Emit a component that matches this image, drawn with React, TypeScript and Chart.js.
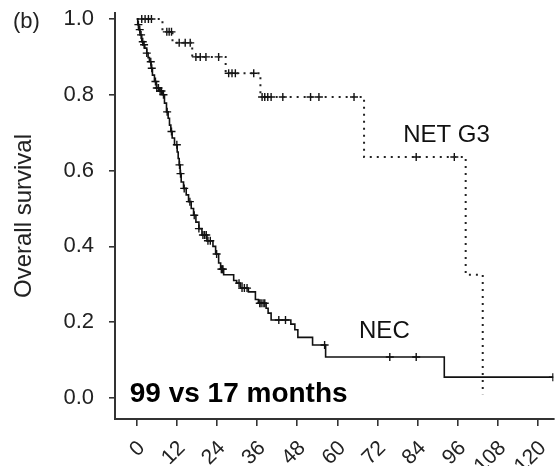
import React, { useEffect, useRef } from 'react';
import { Chart, registerables } from 'chart.js';

Chart.register(...registerables);

// ---- data ----
const X_TICKS = [0, 12, 24, 36, 48, 60, 72, 84, 96, 108, 120];
const Y_TICKS = [0, 0.2, 0.4, 0.6, 0.8, 1.0];

// NEC: months at which survival drops, and survival after each drop
const NEC_MONTHS = [0, 0.3, 0.6, 1.0, 1.5, 2.0, 2.4, 3.0, 3.4, 3.8, 4.3, 4.7, 5.3, 5.9, 6.8, 7.7, 8.3, 8.9, 9.4, 9.8, 10.2, 10.6, 11.3, 12.1, 12.4, 12.7, 13.0, 13.3, 14.0, 14.8, 15.5, 16.3, 17.0, 17.7, 18.6, 19.5, 21.0, 22.8, 23.6, 24.5, 25.1, 26.0, 29.0, 29.9, 31.0, 33.4, 35.5, 36.4, 38.7, 39.3, 40.2, 46.1, 47.3, 48.2, 52.6, 56.5, 92.0];
const NEC_SURV = [1.0, 0.985, 0.972, 0.958, 0.94, 0.932, 0.923, 0.91, 0.898, 0.887, 0.87, 0.852, 0.835, 0.818, 0.81, 0.8, 0.778, 0.755, 0.738, 0.72, 0.703, 0.686, 0.668, 0.649, 0.632, 0.615, 0.592, 0.57, 0.553, 0.536, 0.518, 0.5, 0.482, 0.464, 0.447, 0.43, 0.415, 0.4, 0.38, 0.356, 0.34, 0.325, 0.31, 0.303, 0.29, 0.28, 0.26, 0.25, 0.237, 0.224, 0.206, 0.195, 0.18, 0.16, 0.14, 0.108, 0.055];
const NEC_CENSOR_MONTHS = [0.5, 0.9, 1.3, 1.8, 2.2, 3.0, 4.2, 4.5, 5.6, 6.0, 6.5, 7.0, 7.4, 8.0, 9.1, 10.4, 12.0, 12.8, 13.1, 14.2, 15.9, 17.2, 18.6, 19.8, 20.3, 20.8, 21.3, 22.0, 23.9, 25.3, 25.6, 25.8, 30.6, 31.5, 32.2, 33.0, 36.8, 37.2, 37.8, 38.3, 42.5, 44.5, 56.2, 75.7, 83.6, 124.5];

// NET G3
const NET_MONTHS = [0, 7.7, 10.7, 16.6, 26.6, 37.0, 68.0, 98.4, 103.5];
const NET_SURV = [1.0, 0.966, 0.937, 0.9, 0.857, 0.794, 0.636, 0.325, 0.01];
const NET_CENSOR_MONTHS = [1.5, 2.5, 3.5, 4.4, 9.0, 9.7, 10.4, 12.7, 14.5, 16.0, 17.7, 19.0, 20.7, 24.5, 27.5, 28.5, 29.5, 35.0, 37.5, 38.3, 39.2, 40.2, 43.7, 52.0, 54.5, 65.0, 83.6, 95.0];

// ---- layout / style constants ----
const FONT = '"Liberation Sans", Arial, Helvetica, sans-serif';
const X_MIN = -6.5;
const X_MAX = 124.7;
const Y_MIN = -0.0554;
const Y_MAX = 1.0158;

function survivalAt(months: number[], surv: number[], t: number): number {
  let s = surv[0];
  for (let i = 0; i < months.length; i++) {
    if (months[i] <= t) s = surv[i];
  }
  return s;
}

function curvePoints(months: number[], surv: number[], endMonth?: number) {
  const pts = months.map((m, i) => ({ x: m, y: surv[i] }));
  if (endMonth !== undefined && endMonth > months[months.length - 1]) {
    pts.push({ x: endMonth, y: surv[surv.length - 1] });
  }
  return pts;
}

function censorPoints(months: number[], surv: number[], censors: number[]) {
  return censors.map((t) => ({ x: t, y: survivalAt(months, surv, t) }));
}

const textPlugin = {
  id: 'textAnnotations',
  afterDatasetsDraw(chart: any) {
    const { ctx } = chart;
    const xs = chart.scales.x;
    const ys = chart.scales.y;
    ctx.save();
    ctx.fillStyle = '#111';
    ctx.textAlign = 'left';
    ctx.textBaseline = 'alphabetic';
    ctx.font = `24px ${FONT}`;
    ctx.fillText('NET G3', xs.getPixelForValue(79.7), ys.getPixelForValue(0.676));
    ctx.fillText('NEC', xs.getPixelForValue(66.5), ys.getPixelForValue(0.158));
    ctx.font = `bold 28px ${FONT}`;
    ctx.fillStyle = '#000';
    ctx.fillText('99 vs 17 months', xs.getPixelForValue(-2.1), ys.getPixelForValue(-0.01));
    ctx.font = `22px ${FONT}`;
    ctx.fillStyle = '#222';
    ctx.fillText('(b)', 13, 28);
    ctx.restore();
  },
};

export default function App() {
  const canvasRef = useRef<HTMLCanvasElement | null>(null);

  useEffect(() => {
    if (!canvasRef.current) return;
    const necLastCensor = Math.max(...NEC_CENSOR_MONTHS);
    const chart = new Chart(canvasRef.current, {
      type: 'line',
      data: {
        datasets: [
          {
            label: 'NEC',
            data: curvePoints(NEC_MONTHS, NEC_SURV, necLastCensor),
            borderColor: '#111',
            borderWidth: 1.6,
            stepped: 'before',
            pointRadius: 0,
            fill: false,
          },
          {
            label: 'NET G3',
            data: curvePoints(NET_MONTHS, NET_SURV),
            borderColor: '#222',
            borderWidth: 2,
            borderDash: [2, 5],
            stepped: 'before',
            pointRadius: 0,
            fill: false,
          },
          {
            label: 'NEC censored',
            data: censorPoints(NEC_MONTHS, NEC_SURV, NEC_CENSOR_MONTHS),
            showLine: false,
            pointStyle: 'cross',
            pointRadius: 4,
            pointBorderWidth: 1.4,
            pointBorderColor: '#111',
            borderColor: '#111',
          },
          {
            label: 'NET censored',
            data: censorPoints(NET_MONTHS, NET_SURV, NET_CENSOR_MONTHS),
            showLine: false,
            pointStyle: 'cross',
            pointRadius: 4,
            pointBorderWidth: 1.4,
            pointBorderColor: '#111',
            borderColor: '#111',
          },
        ],
      },
      options: {
        responsive: false,
        animation: false,
        layout: { padding: { top: 13, left: 0, right: 0, bottom: 0 } },
        plugins: {
          legend: { display: false },
          tooltip: { enabled: false },
        },
        scales: {
          x: {
            type: 'linear',
            min: X_MIN,
            max: X_MAX,
            afterBuildTicks: (scale: any) => {
              scale.ticks = X_TICKS.map((v) => ({ value: v }));
            },
            afterFit: (scale: any) => {
              scale.height = 47;
              scale.paddingLeft = 0;
              scale.paddingRight = 0;
            },
            ticks: {
              autoSkip: false,
              maxRotation: 45,
              minRotation: 45,
              padding: 10,
              labelOffset: 5,
              color: '#222',
              font: { size: 21, family: FONT },
              callback: (v: any) => String(v),
            },
            grid: {
              drawOnChartArea: false,
              drawTicks: true,
              tickLength: 7,
              color: '#333',
              lineWidth: 1.6,
            },
            border: { display: true, color: '#333', width: 2 },
          },
          y: {
            type: 'linear',
            min: Y_MIN,
            max: Y_MAX,
            afterBuildTicks: (scale: any) => {
              scale.ticks = Y_TICKS.map((v) => ({ value: v }));
            },
            afterFit: (scale: any) => {
              scale.width = 115;
              scale.paddingTop = 0;
              scale.paddingBottom = 0;
            },
            ticks: {
              padding: 15,
              color: '#222',
              font: { size: 22, family: FONT },
              callback: (v: any) => Number(v).toFixed(1),
            },
            grid: {
              drawOnChartArea: false,
              drawTicks: true,
              tickLength: 6,
              color: '#333',
              lineWidth: 1.6,
            },
            border: { display: true, color: '#333', width: 2 },
            title: {
              display: true,
              text: 'Overall survival',
              color: '#222',
              font: { size: 24, family: FONT },
              padding: { top: 10, bottom: 0 },
            },
          },
        },
      },
      plugins: [textPlugin],
    });
    return () => chart.destroy();
  }, []);

  return (
    <div style={{ position: 'absolute', left: 0, top: 0, width: 559, height: 466, background: '#fff' }}>
      <canvas ref={canvasRef} width={559} height={466} style={{ width: 559, height: 466, display: 'block' }} />
    </div>
  );
}
